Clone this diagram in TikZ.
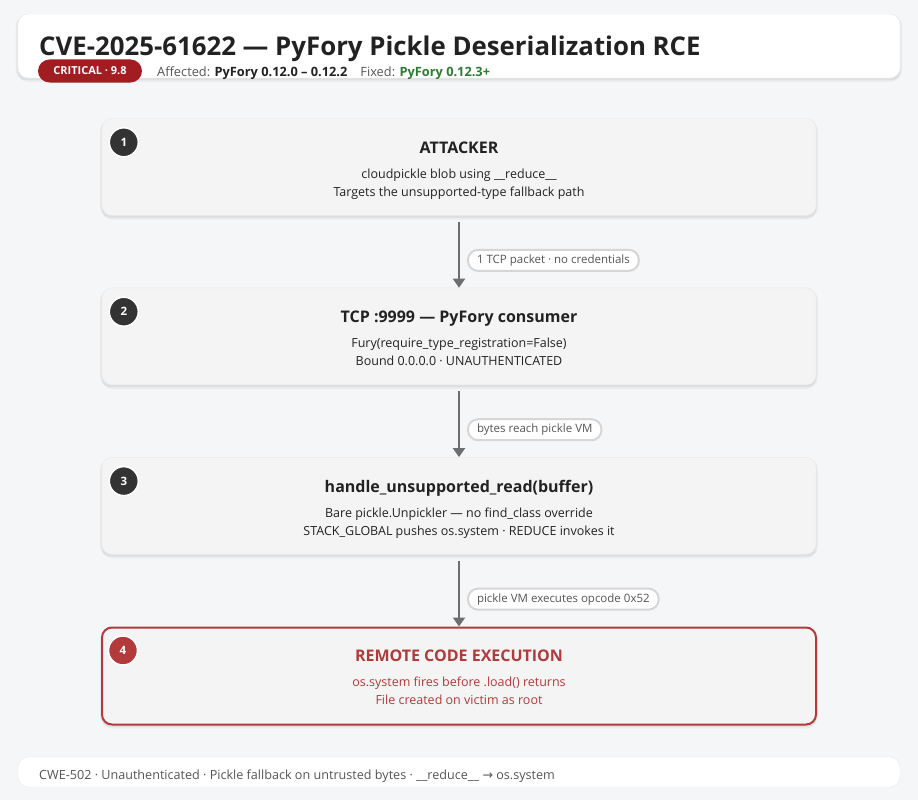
\documentclass[tikz,border=0pt]{standalone}
\usepackage{fontspec}
\setmainfont{Open Sans}
\newfontfamily\symfont{DejaVu Sans}
\usetikzlibrary{positioning,arrows.meta,shadows}
\definecolor{pagebg}{HTML}{F5F6F8}
\definecolor{cardfill}{HTML}{F4F4F4}
\definecolor{cardline}{HTML}{E8E8E8}
\definecolor{ink}{HTML}{222222}
\definecolor{mute}{HTML}{555555}
\definecolor{flowgrey}{HTML}{6E6E6E}
\definecolor{pillline}{HTML}{D6D6D6}
\definecolor{critred}{HTML}{A11D22}
\definecolor{rcered}{HTML}{B23A3A}
\definecolor{fixgreen}{HTML}{2E7D32}
\definecolor{dotgrey}{HTML}{333333}

\begin{document}
\begin{tikzpicture}[x=1pt,y=-1pt]
\tikzset{softshadow/.style={general shadow={shadow xshift=0pt, shadow yshift=-2pt, opacity=0.05, fill=black, shadow scale=1.005}, general shadow={shadow xshift=0pt, shadow yshift=-4pt, opacity=0.04, fill=black}},
  card/.style={draw=cardline, fill=cardfill, rounded corners=10pt, minimum width=714pt, minimum height=97pt, inner sep=0pt, softshadow},
  rcecard/.style={draw=rcered, line width=2pt},
  stepdot/.style={circle, fill=dotgrey, draw=white, line width=1.5pt, minimum size=29pt, inner sep=0pt, text=white, font=\fontsize{11.5}{14}\selectfont\bfseries},
  cardtitle/.style={anchor=base, text=ink, font=\fontsize{16}{20}\selectfont\bfseries},
  cardbody/.style={anchor=base, align=center, text=ink, font=\fontsize{12.5}{18}\selectfont},
  flow/.style={draw=flowgrey, line width=2pt, shorten <=6pt, -{Triangle[width=12pt,length=9pt]}},
  pill/.style={anchor=west, xshift=8pt, fill=white, draw=pillline, rounded corners=10pt, minimum height=21pt, inner xsep=9pt, inner ysep=0pt, text=mute, font=\fontsize{11.5}{14}\selectfont}}
\useasboundingbox (0,0) rectangle (918,800);
\fill[pagebg] (0,0) rectangle (918,800);
% header
\node[fill=white, draw=cardline, rounded corners=10pt, minimum width=882pt, minimum height=64pt, softshadow] (head) at (459,46) {};
\node[anchor=base west, inner sep=0pt, text=ink, font=\fontsize{25.8}{30}\selectfont\bfseries] (title) at (39,56) {CVE-2025-61622 — PyFory Pickle Deserialization RCE};
\node[fill=critred, rounded corners=11.5pt, minimum width=104pt, minimum height=23pt, inner sep=0pt, text=white, font=\fontsize{11}{14}\selectfont\bfseries] (sev) at (90,71) {CRITICAL · 9.8};
\node[anchor=base west, inner sep=0pt, text=ink, font=\fontsize{12.8}{14}\selectfont] (affected) at (157,77) {\textcolor{mute}{Affected:} \textbf{PyFory 0.12.0 – 0.12.2}\hspace{13pt}\textcolor{mute}{Fixed:} \textcolor{fixgreen}{\textbf{PyFory 0.12.3+}}};
% the four stages
\node[card] (attacker) at (459,167) {};
\node[card, below=72pt of attacker] (consumer) {};
\node[card, below=72pt of consumer] (reader) {};
\node[card, rcecard, below=72pt of reader] (rce) {};
\node[stepdot] (n1) at ([xshift=22pt,yshift=-24pt]attacker.north west) {1};
\node[stepdot] (n2) at ([xshift=22pt,yshift=-24pt]consumer.north west) {2};
\node[stepdot] (n3) at ([xshift=22pt,yshift=-24pt]reader.north west) {3};
\node[stepdot, fill=rcered] (n4) at ([xshift=22pt,yshift=-24pt]rce.north west) {4};
\node[cardtitle] (t1) at ([yshift=-35pt]attacker.north) {ATTACKER};
\node[cardbody] (b1) at ([yshift=-78pt]attacker.north) {cloudpickle blob using \_\_reduce\_\_\\Targets the unsupported-type fallback path};
\node[cardtitle] (t2) at ([yshift=-35pt]consumer.north) {TCP :9999 — PyFory consumer};
\node[cardbody] (b2) at ([yshift=-78pt]consumer.north) {Fury(require\_type\_registration=False)\\Bound 0.0.0.0 · UNAUTHENTICATED};
\node[cardtitle] (t3) at ([yshift=-35pt]reader.north) {handle\_unsupported\_read(buffer)};
\node[cardbody] (b3) at ([yshift=-78pt]reader.north) {Bare pickle.Unpickler — no find\_class override\\STACK\_GLOBAL pushes os.system · REDUCE invokes it};
\node[cardtitle, text=rcered] (t4) at ([yshift=-35pt]rce.north) {REMOTE CODE EXECUTION};
\node[cardbody, text=rcered] (b4) at ([yshift=-78pt]rce.north) {os.system fires before .load() returns\\File created on victim as root};
% connectors
\draw[flow] (attacker.south) -- node[pill, pos=0.62] (p1) {1 TCP packet · no credentials} (consumer.north);
\draw[flow] (consumer.south) -- node[pill, pos=0.62] (p2) {bytes reach pickle VM} (reader.north);
\draw[flow] (reader.south) -- node[pill, pos=0.62] (p3) {pickle VM executes opcode 0x52} (rce.north);
% footer
\node[fill=white, draw=cardline, rounded corners=10pt, minimum width=882pt, minimum height=30pt] (foot) at (459,772) {};
\node[anchor=base west, inner sep=0pt, text=mute, font=\fontsize{12.6}{14}\selectfont] (foottext) at (39,779) {CWE-502 · Unauthenticated · Pickle fallback on untrusted bytes · \_\_reduce\_\_ {\symfont →} os.system};
\end{tikzpicture}
\end{document}
